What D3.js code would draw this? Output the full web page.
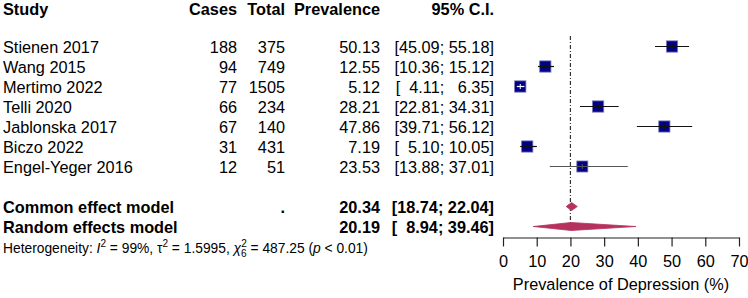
<!DOCTYPE html>
<html>
<head>
<meta charset="utf-8">
<script src="https://cdn.jsdelivr.net/npm/d3@7"></script>
<style>
  body { margin: 0; background: #fff; }
  svg { display: block; font-family: "Liberation Sans", Arial, sans-serif; }
</style>
</head>
<body>
<div id="chart"></div>
<script>
// study data
var studies = ['Stienen 2017', 'Wang 2015', 'Mertimo 2022', 'Telli 2020', 'Jablonska 2017', 'Biczo 2022', 'Engel-Yeger 2016']
var cases = [188, 94, 77, 66, 67, 31, 12]
var totals = [375, 749, 1505, 234, 140, 431, 51]
var prev = [50.13, 12.55, 5.12, 28.21, 47.86, 7.19, 23.53]
var lower = [45.09, 10.36, 4.11, 22.81, 39.71, 5.10, 13.88]
var upper = [55.18, 15.12, 6.35, 34.31, 56.12, 10.05, 37.01]
var weights = [14.4, 14.4, 14.5, 14.4, 14.2, 14.3, 13.8]

var models = ['Common effect model', 'Random effects model']
var modelTotal = ['.', '']
var modelPrev = [20.34, 20.19]
var modelLower = [18.74, 8.94]
var modelUpper = [22.04, 39.46]

var headers = ['Study', 'Cases', 'Total', 'Prevalence', '95% C.I.']
var xTicks = [0, 10, 20, 30, 40, 50, 60, 70]
var refLine = 20
var xTitle = 'Prevalence of Depression (%)'

var width = 748, height = 298

var svg = d3.select('#chart').append('svg')
  .attr('width', width)
  .attr('height', height)

var x = d3.scaleLinear().domain([0, 70]).range([503, 739])
// row index -> vertical centre
var y = d3.scaleLinear().domain([0, 1]).range([46.5, 66.5])
var size = d3.scaleSqrt().domain([0, d3.max(weights)]).range([0, 11.3])

var fmt = d3.format('.2f')
function ci(lo, hi) {
  var a = fmt(lo), b = fmt(hi)
  return '[' + (a.length < 5 ? '\u2007' : '') + a + '; ' + (b.length < 5 ? '\u2007' : '') + b + ']'
}

var colX = { study: 3, cases: 237, total: 285, prev: 380, ci: 494 }
var fs = 16.3

// headers
var hdr = svg.append('g').attr('font-weight', 'bold').attr('font-size', fs)
hdr.append('text').attr('x', colX.study).attr('y', 15).text(headers[0])
hdr.append('text').attr('x', colX.cases).attr('y', 15).attr('text-anchor', 'end').text(headers[1])
hdr.append('text').attr('x', colX.total).attr('y', 15).attr('text-anchor', 'end').text(headers[2])
hdr.append('text').attr('x', colX.prev).attr('y', 15).attr('text-anchor', 'end').text(headers[3])
hdr.append('text').attr('x', colX.ci).attr('y', 15).attr('text-anchor', 'end').text(headers[4])

// study rows
var rows = svg.append('g').attr('font-size', fs)
studies.forEach(function(s, i) {
  var yy = y(i) + 6
  rows.append('text').attr('x', colX.study).attr('y', yy).text(s)
  rows.append('text').attr('x', colX.cases).attr('y', yy).attr('text-anchor', 'end').text(cases[i])
  rows.append('text').attr('x', colX.total).attr('y', yy).attr('text-anchor', 'end').text(totals[i])
  rows.append('text').attr('x', colX.prev).attr('y', yy).attr('text-anchor', 'end').text(fmt(prev[i]))
  rows.append('text').attr('x', colX.ci).attr('y', yy).attr('text-anchor', 'end')
    .style('white-space', 'pre').text(ci(lower[i], upper[i]))
})

// model rows
var mrows = svg.append('g').attr('font-size', fs).attr('font-weight', 'bold')
models.forEach(function(m, i) {
  var yy = y(8 + i) + 6
  mrows.append('text').attr('x', colX.study).attr('y', yy).text(m)
  mrows.append('text').attr('x', colX.total).attr('y', yy).attr('text-anchor', 'end').text(modelTotal[i])
  mrows.append('text').attr('x', colX.prev).attr('y', yy).attr('text-anchor', 'end').text(fmt(modelPrev[i]))
  mrows.append('text').attr('x', colX.ci).attr('y', yy).attr('text-anchor', 'end')
    .style('white-space', 'pre').text(ci(modelLower[i], modelUpper[i]))
})

// heterogeneity line
var het = svg.append('text').attr('x', colX.study).attr('y', 252.5).attr('font-size', 13.8)
het.append('tspan').text('Heterogeneity: ')
het.append('tspan').attr('font-style', 'italic').text('I')
het.append('tspan').attr('font-size', 10).attr('dy', -5.5).text('2')
het.append('tspan').attr('dy', 5.5).text(' = 99%, \u03C4')
het.append('tspan').attr('font-size', 10).attr('dy', -5.5).text('2')
het.append('tspan').attr('dy', 5.5).text(' = 1.5995, ')
het.append('tspan').attr('font-style', 'italic').text('\u03C7')
het.append('tspan').attr('font-size', 10).attr('dy', -6).text('2')
het.append('tspan').attr('font-size', 10).attr('dx', -5.6).attr('dy', 10).text('6')
het.append('tspan').attr('dy', -4).text(' = 487.25 (')
het.append('tspan').attr('font-style', 'italic').text('p')
het.append('tspan').text(' < 0.01)')

// reference line
svg.append('line')
  .attr('x1', x(refLine)).attr('x2', x(refLine))
  .attr('y1', 36).attr('y2', y(9) + 4)
  .attr('stroke', '#333').attr('stroke-width', 1.2)
  .attr('stroke-dasharray', '4,2,1,2')

// study squares and CI
var plot = svg.append('g')
studies.forEach(function(s, i) {
  var cy = y(i)
  var sz = size(weights[i])
  var inside = (x(upper[i]) - x(lower[i])) < sz
  plot.append('rect')
    .attr('x', x(prev[i]) - sz / 2).attr('y', cy - sz / 2)
    .attr('width', sz).attr('height', sz)
    .attr('fill', '#00008B').attr('stroke', '#7a7ab8').attr('stroke-width', 0.8)
  var col = inside ? '#fff' : (i === 6 ? '#555' : '#111')
  plot.append('line')
    .attr('x1', x(lower[i])).attr('x2', x(upper[i]))
    .attr('y1', cy).attr('y2', cy)
    .attr('stroke', col).attr('stroke-width', 1.2)
  plot.append('line')
    .attr('x1', x(prev[i])).attr('x2', x(prev[i]))
    .attr('y1', cy - 2.5).attr('y2', cy + 2.5)
    .attr('stroke', col).attr('stroke-width', 1)
})

// diamonds
models.forEach(function(m, i) {
  var cy = y(8 + i)
  var h = 4
  var pts = [[x(modelLower[i]), cy], [x(modelPrev[i]), cy - h], [x(modelUpper[i]), cy], [x(modelPrev[i]), cy + h]]
  plot.append('path')
    .attr('d', d3.line()(pts) + 'Z')
    .attr('fill', '#B5325F').attr('stroke', '#B5325F').attr('stroke-width', 0.8)
})

// x axis
var axis = svg.append('g')
  .attr('transform', 'translate(0,237.5)')
  .call(d3.axisBottom(x).tickValues(xTicks).tickSize(9).tickPadding(9).tickSizeOuter(0))
axis.select('.domain').attr('stroke', '#222').attr('stroke-width', 1.2)
axis.selectAll('.tick line').attr('stroke', '#222').attr('stroke-width', 1.2)
axis.selectAll('.tick text')
  .attr('font-family', '"Liberation Sans", Arial, sans-serif')
  .attr('font-size', fs).attr('fill', '#000')

svg.append('text')
  .attr('x', (x(0) + x(70)) / 2).attr('y', 290)
  .attr('text-anchor', 'middle').attr('font-size', fs)
  .text(xTitle)
</script>
</body>
</html>
